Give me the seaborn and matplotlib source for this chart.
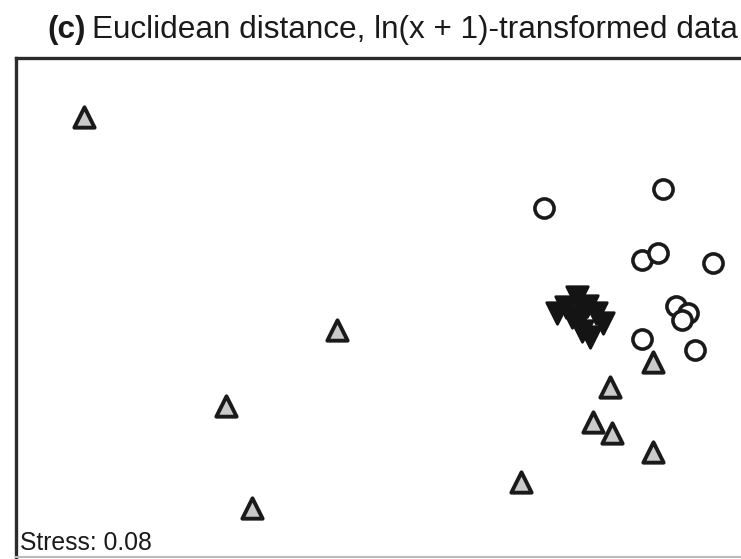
import matplotlib
matplotlib.use("Agg")
import matplotlib.pyplot as plt
import seaborn as sns
import pandas as pd

# NMDS ordination coordinates (axis 1, axis 2) for the three groups of samples
tri_x = [-1.58, -0.315, -0.87, -0.74, 0.605, 1.265, 1.05, 0.965, 1.06, 1.265]
tri_y = [0.915, -0.15, -0.53, -1.04, -0.91, -0.31, -0.435, -0.61, -0.665, -0.76]

circ_x = [0.72, 1.315, 1.21, 1.29, 1.565, 1.38, 1.44, 1.41, 1.21, 1.475]
circ_y = [0.46, 0.555, 0.20, 0.235, 0.185, -0.03, -0.065, -0.10, -0.195, -0.25]

inv_x = [0.885, 0.785, 0.83, 0.935, 0.98, 1.015, 0.91, 0.95, 0.89, 0.86]
inv_y = [0.015, -0.065, -0.035, -0.03, -0.065, -0.115, -0.155, -0.185, -0.11, -0.085]

stress = 0.08
title_tag = "(c)"
title_text = "Euclidean distance, ln(x + 1)-transformed data"

sns.set_theme(style="white")
plt.rcParams["font.family"] = ["Liberation Sans", "DejaVu Sans"]

fig = plt.figure(figsize=(7.41, 5.59), dpi=100)
ax = fig.add_axes([16 / 741, 2 / 559, 1.004, 499 / 559])

df_tri = pd.DataFrame({"x": tri_x, "y": tri_y})
df_circ = pd.DataFrame({"x": circ_x, "y": circ_y})
df_inv = pd.DataFrame({"x": inv_x, "y": inv_y})

sns.scatterplot(data=df_circ, x="x", y="y", ax=ax, marker="o", s=190,
                facecolor="white", edgecolor="#1a1a1a", linewidth=2.6, zorder=3)
sns.scatterplot(data=df_tri, x="x", y="y", ax=ax, marker="^", s=215,
                facecolor="#cacaca", edgecolor="#1a1a1a", linewidth=2.8, zorder=3)
sns.scatterplot(data=df_inv, x="x", y="y", ax=ax, marker="v", s=240,
                facecolor="#141414", edgecolor="#141414", linewidth=2.0, zorder=4)

ax.set_xlim(-1.92, 1.80)
ax.set_ylim(-1.285, 1.21)
ax.set_xticks([])
ax.set_yticks([])
ax.set_xlabel("")
ax.set_ylabel("")
for side in ["left", "top"]:
    ax.spines[side].set_color("#2b2b2b")
    ax.spines[side].set_linewidth(2.4)
ax.spines["bottom"].set_color("#bbbbbb")
ax.spines["bottom"].set_linewidth(1.5)
ax.spines["right"].set_visible(False)

ax.text(4 / 745, 7 / 499, f"Stress: {stress:.2f}", transform=ax.transAxes,
        ha="left", va="baseline", fontsize=17.8, color="#1a1a1a")

# bold panel tag followed by the plain title text
base_y = 1 - 38 / 559
tag = fig.text(47 / 741, base_y, title_tag, fontsize=22.7, fontweight="bold",
               ha="left", va="baseline", color="#1a1a1a")
fig.canvas.draw()
bb = tag.get_window_extent()
fig.text((bb.x1 + 6) / 741, base_y, title_text, fontsize=22.7,
         ha="left", va="baseline", color="#1a1a1a")

fig.savefig("out.png", dpi=100)
